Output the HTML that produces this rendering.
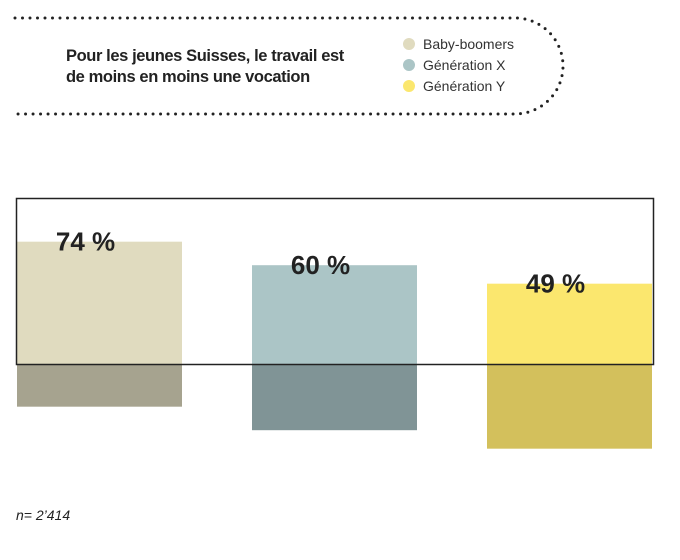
<!DOCTYPE html>
<html><head><meta charset="utf-8"><style>
body{margin:0;background:#fff;width:680px;height:555px;overflow:hidden;font-family:"Liberation Sans",sans-serif}
</style></head><body>
<svg width="680" height="555" viewBox="0 0 680 555">
<path d="M15 18 H515 A48 48 0 0 1 515 114 H15" fill="none" stroke="#222" stroke-width="3" stroke-linecap="round" stroke-dasharray="0 7.5"/>
<text font-weight="bold" font-size="16.5" fill="#222" letter-spacing="-0.4"><tspan x="66" y="61">Pour les jeunes Suisses, le travail est</tspan><tspan x="66" y="82">de moins en moins une vocation</tspan></text>
<g id="legend"></g>
<g id="bars"></g>
<rect x="16.5" y="198.5" width="637" height="166" fill="none" stroke="#222" stroke-width="1.5"/>
<text x="16" y="520" font-size="14" font-style="italic" fill="#222">n= 2’414</text>
</svg>
<script>
const categories=["Baby-boomers","Génération X","Génération Y"];
const values=[74,60,49];
const labels=["74 %","60 %","49 %"];
const ns="http://www.w3.org/2000/svg";
const light=["#e0dbbf","#abc5c6","#fbe76e"],dark=["#a6a38f","#809496","#d3c05c"];
const xs=[17,252,487],bw=165,bh=165,boxTop=198,boxBot=364;
const y=v=>boxTop+(100-v)*1.68;
const bars=document.getElementById('bars');
function mk(t,a,p){const e=document.createElementNS(ns,t);for(const k in a)e.setAttribute(k,a[k]);p.appendChild(e);return e;}
values.forEach((v,i)=>{
 const top=y(v),bot=top+bh;
 const r1=mk('rect',{x:xs[i],y:top,width:bw,height:boxBot-top,fill:light[i]},bars);
 
 
 const r2=mk('rect',{x:xs[i],y:boxBot,width:bw,height:bot-boxBot,fill:dark[i]},bars);
 
 
 const t=mk('text',{x:xs[i]+bw/2-14+(i==0?0:0),y:top+9,'font-size':26,'font-weight':'bold',fill:'#222','text-anchor':'middle'},bars);
 
 
 t.textContent=labels[i];
});
const lg=document.getElementById('legend');
categories.forEach((c,i)=>{
 const cy=44+i*21;
 const d=mk('circle',{cx:409,cy:cy,r:6,fill:light[i]},lg);
 
 
 const t=mk('text',{x:423,y:cy+5,'font-size':14,fill:'#333'},lg);
 
 
 t.textContent=c;
});
</script>
</body></html>
